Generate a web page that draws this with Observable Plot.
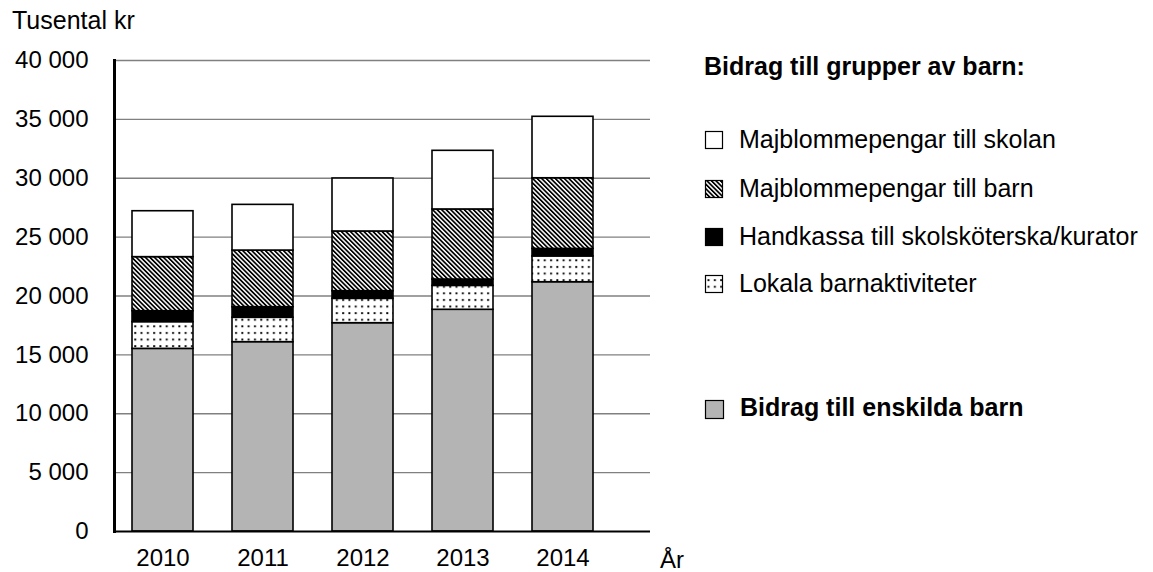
<!DOCTYPE html>
<html><head><meta charset="utf-8">
<script src="https://cdn.jsdelivr.net/npm/d3@7"></script>
<script src="https://cdn.jsdelivr.net/npm/@observablehq/plot@0.6"></script>
<style>
body{margin:0;background:#fff;font-family:"Liberation Sans",Arial,sans-serif;}
#wrap{position:relative;width:1153px;height:572px;}
#wrap > svg{position:absolute;left:0;top:0;}
</style></head><body><div id="wrap"></div>
<script>
const years = ["2010", "2011", "2012", "2013", "2014"];
const series = [
  "Bidrag till enskilda barn",
  "Lokala barnaktiviteter",
  "Handkassa till skolsköterska/kurator",
  "Majblommepengar till barn",
  "Majblommepengar till skolan"
];
const enskilda  = [15510, 16080, 17690, 18830, 21170];
const lokala    = [2270, 2070, 2070, 2030, 2190];
const handkassa = [930, 900, 650, 540, 640];
const tillBarn  = [4590, 4810, 5070, 5950, 6000];
const skolan    = [3900, 3880, 4500, 4980, 5220];
const yTicks = [0, 5000, 10000, 15000, 20000, 25000, 30000, 35000, 40000];
const legendTitle = "Bidrag till grupper av barn:";
const yUnit = "Tusental kr";
const xUnit = "År";

const fills = ["#b4b4b4", "url(#dots)", "#000000", "url(#hatch)", "#ffffff"];
const valuesBySeries = [enskilda, lokala, handkassa, tillBarn, skolan];
const rows = [];
years.forEach((year, i) => {
  series.forEach((s, j) => rows.push({year, series: s, value: valuesBySeries[j][i]}));
});

const fmt = d => d3.format(",")(d).replace(/,/g, " ");

const W = 1153, H = 572;
const chart = Plot.plot({
  width: W,
  height: H,
  marginLeft: 114,
  marginRight: 503,
  marginTop: 60,
  marginBottom: 41,
  style: {fontFamily: "'Liberation Sans', Arial, sans-serif", fontSize: "24px", color: "#000", background: "#fff", overflow: "visible"},
  x: {type: "band", domain: years, range: [114, 611], paddingInner: 0.39, paddingOuter: 0.177},
  y: {domain: [0, 40000]},
  color: {type: "ordinal", domain: series, range: fills},
  marks: [
    Plot.ruleY(yTicks.filter(d => d > 0), {stroke: "#808080", strokeWidth: 1.3}),
    Plot.barY(rows, {x: "year", y: "value", fill: "series", stroke: "#000", strokeWidth: 1.6, order: series}),
    Plot.ruleY([0], {stroke: "#000", strokeWidth: 2}),
    Plot.frame({anchor: "left", stroke: "#000", strokeWidth: 3}),
    Plot.axisY({ticks: yTicks, tickFormat: fmt, tickSize: 0, tickPadding: 26, label: null, fontSize: 24}),
    Plot.axisX({tickSize: 0, tickPadding: 17, label: null, fontSize: 24})
  ]
});

const defs = d3.select(chart).insert("defs", ":first-child");
const hatch = defs.append("pattern").attr("id", "hatch").attr("patternUnits", "userSpaceOnUse")
  .attr("width", 3.2).attr("height", 3.2).attr("patternTransform", "rotate(-45)");
hatch.append("rect").attr("width", 3.2).attr("height", 3.2).attr("fill", "#fff");
hatch.append("rect").attr("width", 1.7).attr("height", 3.2).attr("fill", "#000");
const dots = defs.append("pattern").attr("id", "dots").attr("patternUnits", "userSpaceOnUse")
  .attr("width", 6.3).attr("height", 6.6);
dots.append("rect").attr("width", 6.3).attr("height", 6.6).attr("fill", "#fff");
dots.append("rect").attr("x", 2).attr("y", 2).attr("width", 1.9).attr("height", 1.9).attr("fill", "#000");

const wrap = document.getElementById("wrap");
wrap.appendChild(chart);

// overlay: unit labels and legend
const ov = d3.select(wrap).append("svg").attr("width", W).attr("height", H)
  .style("font-family", "'Liberation Sans', Arial, sans-serif").style("font-size", "25px");
ov.append("text").attr("x", 12).attr("y", 29).text(yUnit);
ov.append("text").attr("x", 660).attr("y", 568).style("font-size", "24px").text(xUnit);
ov.append("text").attr("x", 704).attr("y", 75).attr("font-weight", "bold").text(legendTitle);
const groupItems = [4, 3, 2, 1];
const baselines = [148, 197, 245, 292];
groupItems.forEach((j, k) => {
  const b = baselines[k];
  ov.append("rect").attr("x", 705.5).attr("y", b - 16.5).attr("width", 17).attr("height", 17)
    .attr("fill", fills[j]).attr("stroke", "#000").attr("stroke-width", 1.2);
  ov.append("text").attr("x", 739).attr("y", b).text(series[j]);
});
ov.append("rect").attr("x", 705.5).attr("y", 400.5).attr("width", 18).attr("height", 18)
  .attr("fill", fills[0]).attr("stroke", "#000").attr("stroke-width", 1.2);
ov.append("text").attr("x", 740).attr("y", 416).attr("font-weight", "bold").text(series[0]);
</script></body></html>
